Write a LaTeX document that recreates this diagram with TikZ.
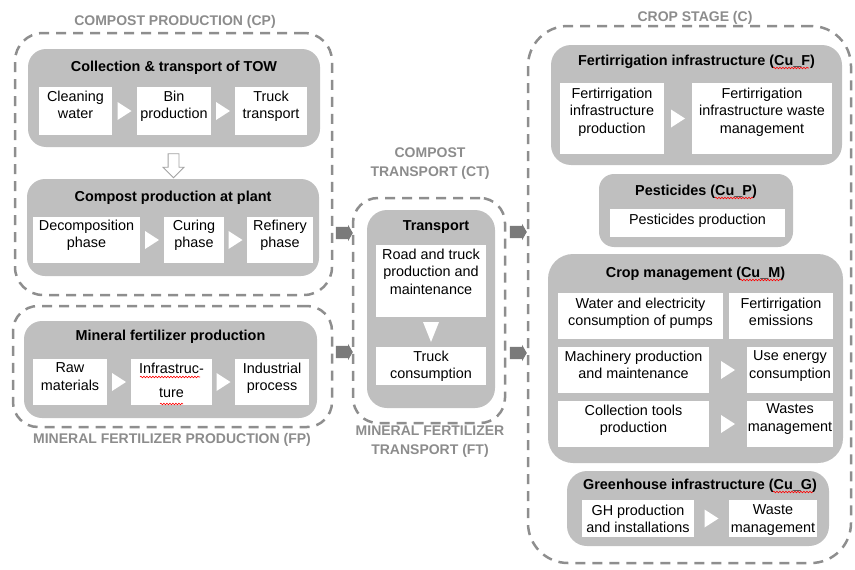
\documentclass[tikz,border=0pt]{standalone}
\usepackage{fontspec}
\setmainfont{Liberation Sans}
\usetikzlibrary{calc,fit,shapes.arrows,decorations.pathmorphing}
\definecolor{boxgrey}{HTML}{BFBFBF}
\definecolor{zonegrey}{HTML}{8E8E8E}
\definecolor{flowgrey}{HTML}{7A7A7A}
\definecolor{labelgrey}{HTML}{8C8C8C}
\newcommand\diagfont{\fontsize{14.4pt}{17.5pt}\selectfont}
\newcommand\zonefont{\fontsize{14pt}{17.5pt}\selectfont}
% white step triangles between two boxes
\newcommand\stepright[2]{\fill[white] ($(#1.east)!0.5!(#2.west)$) ++(-7,-9) -- ++(14,9) -- ++(-14,9) -- cycle;}
\newcommand\stepdown[2]{\fill[white] ($(#1.south)!0.5!(#2.north)$) ++(-8,-10) -- ++(16,0) -- ++(-8,20) -- cycle;}
\begin{document}
\begin{tikzpicture}[x=1pt,y=-1pt,
  zone/.style={draw=zonegrey, line width=2.5pt, dash pattern=on 10pt off 7pt, rounded corners=28pt, inner sep=0pt},
  greybox/.style={fill=boxgrey, rounded corners=18pt, inner sep=0pt},
  wbox/.style={fill=white, inner sep=0pt},
  ttl/.style={font=\bfseries\diagfont, anchor=base, inner sep=0pt},
  wtxt/.style={font=\diagfont, align=center, anchor=north, inner sep=0pt},
  zlabel/.style={font=\bfseries\zonefont, text=labelgrey, align=center, inner sep=0pt},
  flow/.style={single arrow, fill=flowgrey, minimum height=17pt, inner xsep=0pt, inner ysep=6pt, single arrow head extend=2pt, single arrow tip angle=120},
  hollow/.style={single arrow, draw=flowgrey!70, fill=white, line width=0.8pt, minimum height=24pt, inner xsep=0pt, inner ysep=5pt, single arrow head extend=5pt},
  spell/.style={red, line width=0.6pt, decorate, decoration={snake, amplitude=0.8pt, segment length=3pt}}
]
\useasboundingbox (0,0) rectangle (855,570);

% ---------- stage outlines ----------
\node[zone, fit={(15,33)(332,295)}] (cpz) {};
\node[zone, rounded corners=25pt, fit={(13,306)(332,427)}] (fpz) {};
\node[zone, rounded corners=25pt, fit={(353,198)(505,423)}] (ctz) {};
\node[zone, rounded corners=40pt, fit={(528,26)(851,563)}] (cz) {};

\node[zlabel, anchor=base] (cpz-l) at (175,25) {COMPOST PRODUCTION (CP)};
\node[zlabel, anchor=base] (fpz-l) at (172,443) {MINERAL FERTILIZER PRODUCTION (FP)};
\node[zlabel, anchor=north] (ctz-l) at (430,148) {COMPOST\\[1pt]TRANSPORT (CT)};
\node[zlabel, anchor=north] (ftz-l) at (430,426) {MINERAL FERTILIZER\\[1pt]TRANSPORT (FT)};
\node[zlabel, anchor=base] (cz-l) at (695,21) {CROP STAGE (C)};

% ---------- compost production ----------
\node[greybox, fit={(28,49)(320,147)}] (coll) {};
\node[ttl] (coll-t) at (coll.north |- 0,71) {Collection \& transport of TOW};
\node[wbox, fit={(39,87)(112,135)}] (cw) {};
\node[wbox, fit={(137,87)(211,135)}] (bp) {};
\node[wbox, fit={(235,87)(307,135)}] (tt) {};
\node[wtxt] (cw-t) at ($(cw.north)+(0,4)$) {Cleaning\\water};
\node[wtxt] (bp-t) at ($(bp.north)+(0,4)$) {Bin\\production};
\node[wtxt] (tt-t) at ($(tt.north)+(0,4)$) {Truck\\transport};
\stepright{cw}{bp}
\stepright{bp}{tt}

\node[greybox, fit={(27,179)(319,276)}] (plant) {};
\node[ttl] (plant-t) at (plant.north |- 0,201) {Compost production at plant};
\node[wbox, fit={(33,217)(140,263)}] (dp) {};
\node[wbox, fit={(164,217)(224,263)}] (cur) {};
\node[wbox, fit={(247,217)(313,263)}] (rf) {};
\node[wtxt] (dp-t) at ($(dp.north)+(0,3)$) {Decomposition\\phase};
\node[wtxt] (cur-t) at ($(cur.north)+(0,3)$) {Curing\\phase};
\node[wtxt] (rf-t) at ($(rf.north)+(0,3)$) {Refinery\\phase};
\stepright{dp}{cur}
\stepright{cur}{rf}

\node[hollow, rotate=-90] (down) at ($(coll.south)!0.5!(plant.north)$) {};

% ---------- mineral fertilizer production ----------
\node[greybox, fit={(24,321)(317,418)}] (mfp) {};
\node[ttl] (mfp-t) at (mfp.north |- 0,340) {Mineral fertilizer production};
\node[wbox, fit={(33,359)(107,405)}] (raw) {};
\node[wbox, fit={(131,359)(212,405)}] (inf) {};
\node[wbox, fit={(235,359)(309,405)}] (ind) {};
\node[wtxt] (raw-t) at ($(raw.north)+(0,4)$) {Raw\\materials};
\node[wtxt] (inf-t) at ($(inf.north)+(0,4)$) {Infrastruc-\\[7pt]ture};
\node[wtxt] (ind-t) at ($(ind.north)+(0,4)$) {Industrial\\process};
\stepright{raw}{inf}
\stepright{inf}{ind}

% ---------- transport ----------
\node[greybox, rounded corners=20pt, fit={(367,210)(495,408)}] (trp) {};
\node[ttl] (trp-t) at (436,230) {Transport};
\node[wbox, fit={(376,245)(486,317)}] (road) {};
\node[wbox, fit={(376,347)(486,385)}] (tcons) {};
\node[wtxt] (road-t) at ($(road.north)+(0,4)$) {Road and truck\\production and\\maintenance};
\node[wtxt] (tcons-t) at ($(tcons.north)+(0,4)$) {Truck\\consumption};
\stepdown{road}{tcons}

% ---------- flows between stages ----------
\node[flow] (f-cp) at ($(cpz.east |- 0,233)!0.5!(ctz.west |- 0,233)$) {};
\node[flow] (f-fp) at ($(fpz.east |- 0,352)!0.5!(ctz.west |- 0,352)$) {};
\node[flow] (f-ct) at ($(ctz.east |- 0,232)!0.5!(cz.west |- 0,232)$) {};
\node[flow] (f-ft) at ($(ctz.east |- 0,353)!0.5!(cz.west |- 0,353)$) {};

% ---------- crop stage ----------
\node[greybox, rounded corners=20pt, fit={(551,45)(842,165)}] (fi) {};
\node[ttl] (fi-t) at (fi.north |- 0,65) {Fertirrigation infrastructure (Cu\_F)};
\node[wbox, fit={(560,83)(664,154)}] (fip) {};
\node[wbox, fit={(692,83)(832,154)}] (fiw) {};
\node[wtxt] (fip-t) at ($(fip.north)+(0,5)$) {Fertirrigation\\infrastructure\\production};
\node[wtxt] (fiw-t) at ($(fiw.north)+(0,5)$) {Fertirrigation\\infrastructure waste\\management};
\stepright{fip}{fiw}

\node[greybox, rounded corners=15pt, fit={(599,174)(793,247)}] (pest) {};
\node[ttl] (pest-t) at (pest.north |- 0,195) {Pesticides (Cu\_P)};
\node[wbox, fit={(610,209)(785,237)}] (pp) {};
\node[wtxt] (pp-t) at ($(pp.north)+(0,5)$) {Pesticides production};

\node[greybox, rounded corners=25pt, fit={(548,254)(843,463)}] (cm) {};
\node[ttl] (cm-t) at (cm.north |- 0,277) {Crop management (Cu\_M)};
\node[wbox, fit={(558,293)(723,339)}] (we) {};
\node[wbox, fit={(729,293)(833,339)}] (fe) {};
\node[wbox, fit={(558,347)(709,393)}] (mp) {};
\node[wbox, fit={(747,347)(833,393)}] (ue) {};
\node[wbox, fit={(558,401)(709,447)}] (tools) {};
\node[wbox, fit={(747,401)(833,447)}] (wm) {};
\node[wtxt] (we-t) at ($(we.north)+(0,5)$) {Water and electricity\\consumption of pumps};
\node[wtxt] (fe-t) at ($(fe.north)+(0,5)$) {Fertirrigation\\emissions};
\node[wtxt] (mp-t) at ($(mp.north)+(0,4)$) {Machinery production\\and maintenance};
\node[wtxt] (ue-t) at ($(ue.north)+(0,4)$) {Use energy\\consumption};
\node[wtxt] (tools-t) at ($(tools.north)+(0,4)$) {Collection tools\\production};
\node[wtxt] (wm-t) at ($(wm.north)+(0,3)$) {Wastes\\management};
\stepright{mp}{ue}
\stepright{tools}{wm}

\node[greybox, rounded corners=20pt, fit={(567,471)(829,546)}] (gh) {};
\node[ttl] (gh-t) at (700,489) {Greenhouse infrastructure (Cu\_G)};
\node[wbox, fit={(582,500)(694,537)}] (ghp) {};
\node[wbox, fit={(729,500)(817,537)}] (ghw) {};
\node[wtxt] (ghp-t) at ($(ghp.north)+(0,5)$) {GH production\\and installations};
\node[wtxt] (ghw-t) at ($(ghw.north)+(0,5)$) {Waste\\management};
\stepright{ghp}{ghw}

% ---------- spell-check marks ----------
\draw[spell] (773,68) -- (809,68);
\draw[spell] (715,198) -- (753,198);
\draw[spell] (740,280) -- (782,280);
\draw[spell] (773,492) -- (813,492);
\draw[spell] (140,377) -- (200,377);
\draw[spell] (160,404) -- (183,404);
\end{tikzpicture}
\end{document}
